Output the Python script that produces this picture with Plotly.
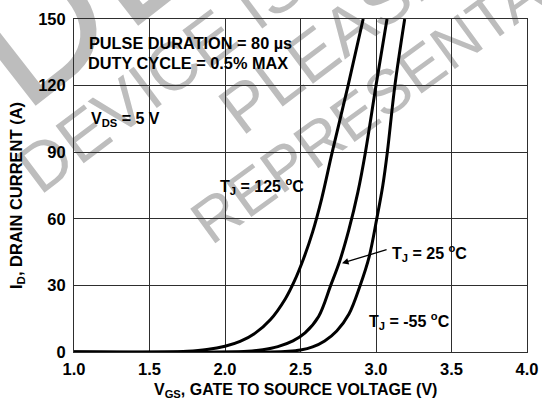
import math
import plotly.graph_objects as go

# ---- data ----
v_125 = [1.0, 1.6, 1.75, 1.88, 2.0, 2.1, 2.2, 2.3, 2.4, 2.46, 2.52, 2.58, 2.64, 2.71, 2.815, 2.915]
i_125 = [0, 0, 0.3, 1.1, 2.6, 4.8, 8.5, 14.5, 24, 32, 42, 54, 69, 90, 120, 150]

v_25 = [1.0, 2.0, 2.15, 2.25, 2.35, 2.45, 2.53, 2.62, 2.70, 2.76, 2.82, 2.88, 2.93, 3.0, 3.073]
i_25 = [0, 0, 0.3, 1.0, 2.4, 5.0, 8.6, 16, 30, 41, 55, 72, 90, 120, 150]

v_m55 = [1.0, 2.3, 2.42, 2.5, 2.58, 2.66, 2.74, 2.82, 2.895, 2.955, 3.005, 3.045, 3.075, 3.125, 3.19]
i_m55 = [0, 0, 0.3, 0.9, 2.3, 5.0, 9.5, 17, 30, 43, 60, 75, 90, 120, 150]

x_ticks = [1.0, 1.5, 2.0, 2.5, 3.0, 3.5, 4.0]
y_ticks = [0, 30, 60, 90, 120, 150]

watermark_texts = ["DE", "DEVICE IS", "PLEASE", "REPRESENTATIVE"]

W, H = 542, 406
L, R, T, B = 74, 15, 19, 54
PW, PH = W - L - R, H - T - B

def px(xp):
    return (xp - L) / PW

def py(yp):
    return (H - B - yp) / PH

FONT = "Arial, Liberation Sans, Helvetica, sans-serif"

fig = go.Figure()
for xs, ys in [(v_125, i_125), (v_25, i_25), (v_m55, i_m55)]:
    fig.add_trace(go.Scatter(x=xs, y=ys, mode="lines",
                             line=dict(color="black", width=3, shape="spline", smoothing=1.0),
                             showlegend=False, hoverinfo="skip"))

fig.update_layout(
    width=W, height=H,
    margin=dict(l=L, r=R, t=T, b=B, autoexpand=False),
    paper_bgcolor="white", plot_bgcolor="rgba(0,0,0,0)",
    font=dict(family=FONT, size=16, color="black"),
    showlegend=False,
)
fig.update_xaxes(range=[1.0, 4.0], tickvals=x_ticks, ticktext=[f"{v:.1f}" for v in x_ticks],
                 showgrid=True, gridcolor="#2e2e2e", gridwidth=1, zeroline=False,
                 showline=True, linecolor="#2e2e2e", linewidth=1, mirror=True, automargin=False,
                 ticks="", tickfont=dict(family=FONT, size=16.5, color="black", weight="bold"),
                 ticklabelstandoff=2)
fig.update_yaxes(range=[0, 150], tickvals=y_ticks, automargin=False,
                 showgrid=True, gridcolor="#2e2e2e", gridwidth=1, zeroline=False,
                 showline=True, linecolor="#2e2e2e", linewidth=1, mirror=True,
                 ticks="", tickfont=dict(family=FONT, size=16.5, color="black", weight="bold"),
                 ticklabelstandoff=4)

# watermark (behind the chart): text laid along an invisible line
wm_geom = [  # start x, start y (pixels), angle (deg, screen), font size
    (-25, 52, -38, 180),
    (22, 172, -37, 68),
    (224, 113, -37, 68),
    (195, 224, -36, 62),
]
for txt, (sx, sy, ang, size) in zip(watermark_texts, wm_geom):
    ex = sx + 100 * math.cos(math.radians(ang))
    ey = sy + 100 * math.sin(math.radians(ang))
    fig.add_shape(type="line", xref="paper", yref="paper",
                  x0=px(sx), y0=py(sy), x1=px(ex), y1=py(ey),
                  line=dict(width=0, color="rgba(0,0,0,0)"), layer="below",
                  label=dict(text=txt, textposition="start",
                             xanchor="left", yanchor="middle", padding=0,
                             font=dict(family="Liberation Sans, Arial", size=size, color="#bdbdbd")))

def ann(text, xp, yp, xanchor="left", size=16, angle=0):
    fig.add_annotation(text=text, xref="paper", yref="paper", x=px(xp), y=py(yp),
                       xanchor=xanchor, yanchor="middle", showarrow=False, textangle=angle,
                       font=dict(family=FONT, size=size, color="black", weight="bold"))

ann("PULSE DURATION = 80 µs", 87, 43, size=16.3)
ann("DUTY CYCLE = 0.5% MAX", 86, 63, size=16.3)
ann("V<sub>DS</sub> = 5 V", 89, 119)
ann("T<sub>J</sub> = 125 <sup>o</sup>C", 218, 186)
ann("T<sub>J</sub> = 25 <sup>o</sup>C", 390, 253)
ann("T<sub>J</sub> = -55 <sup>o</sup>C", 367, 321)
ann("V<sub>GS</sub>, GATE TO SOURCE VOLTAGE (V)", 295, 390, xanchor="center", size=16)
ann("I<sub>D</sub>, DRAIN CURRENT (A)", 17, 196, xanchor="center", size=16.5, angle=-90)

# arrow pointing to the 25 C curve
fig.add_annotation(x=2.775, y=40.0, ax=3.08, ay=46.3, xref="x", yref="y", axref="x", ayref="y",
                   text="", showarrow=True, arrowhead=2, arrowsize=1, arrowwidth=1.3, arrowcolor="black")

fig.write_html("out.html", config={"displayModeBar": False},
               post_script="document.body.style.margin='0';document.body.style.overflow='hidden';")
